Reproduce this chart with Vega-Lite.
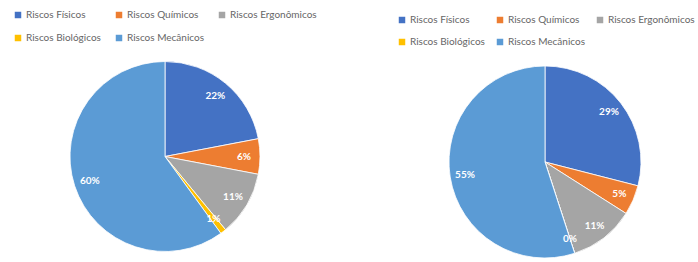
{
  "$schema": "https://vega.github.io/schema/vega-lite/v6.json",
  "background": "white",
  "padding": 0,
  "spacing": 65,
  "bounds": "flush",
  "config": {"view": {"stroke": null}, "font": "Lato"},
  "resolve": {"scale": {"color": "independent", "theta": "independent"}, "legend": {"color": "independent"}},
  "hconcat": [
    {
      "width": 330,
      "height": 185,
      "data": {"values": [
        {"cat": "Riscos Físicos", "k": 1, "v": 0.22},
        {"cat": "Riscos Químicos", "k": 2, "v": 0.06},
        {"cat": "Riscos Ergonômicos", "k": 3, "v": 0.11},
        {"cat": "Riscos Biológicos", "k": 4, "v": 0.01},
        {"cat": "Riscos Mecânicos", "k": 5, "v": 0.60}
      ]},
      "encoding": {
        "theta": {"field": "v", "type": "quantitative", "stack": true},
        "order": {"field": "k", "type": "quantitative"},
        "color": {
          "field": "cat", "type": "nominal",
          "scale": {"domain": ["Riscos Físicos", "Riscos Químicos", "Riscos Ergonômicos", "Riscos Biológicos", "Riscos Mecânicos"],
                    "range": ["#4472C4", "#ED7D31", "#A5A5A5", "#FFC000", "#5B9BD5"]},
          "legend": {"title": null, "orient": "none", "legendX": 3, "legendY": -64, "columns": 3, "direction": "horizontal",
                     "padding": 10, "columnPadding": 13, "rowPadding": 13, "symbolType": "square", "symbolSize": 42,
                     "symbolStrokeWidth": 0, "labelFontSize": 10, "labelColor": "#666666", "labelOffset": 3, "labelFont": "Lato"}
        }
      },
      "layer": [
        {"mark": {"type": "arc", "outerRadius": 95, "stroke": "#ffffff", "strokeWidth": 0.8}},
        {"mark": {"type": "text", "radius": 79, "fill": "white", "fontSize": 10, "fontWeight": "bold", "font": "Lato"},
         "encoding": {"text": {"field": "v", "type": "quantitative", "format": ".0%"}, "color": {"value": "white"}}}
      ]
    },
    {
      "width": 300,
      "height": 196,
      "data": {"values": [
        {"cat": "Riscos Físicos", "k": 1, "v": 0.29},
        {"cat": "Riscos Químicos", "k": 2, "v": 0.05},
        {"cat": "Riscos Ergonômicos", "k": 3, "v": 0.11},
        {"cat": "Riscos Biológicos", "k": 4, "v": 0.0},
        {"cat": "Riscos Mecânicos", "k": 5, "v": 0.55}
      ]},
      "encoding": {
        "theta": {"field": "v", "type": "quantitative", "stack": true},
        "order": {"field": "k", "type": "quantitative"},
        "color": {
          "field": "cat", "type": "nominal",
          "scale": {"domain": ["Riscos Físicos", "Riscos Químicos", "Riscos Ergonômicos", "Riscos Biológicos", "Riscos Mecânicos"],
                    "range": ["#4472C4", "#ED7D31", "#A5A5A5", "#FFC000", "#5B9BD5"]},
          "legend": {"title": null, "orient": "none", "legendX": -8, "legendY": -59, "columns": 3, "direction": "horizontal",
                     "padding": 10, "columnPadding": 10, "rowPadding": 12, "symbolType": "square", "symbolSize": 42,
                     "symbolStrokeWidth": 0, "labelFontSize": 10, "labelColor": "#666666", "labelOffset": 3, "labelFont": "Lato"}
        }
      },
      "layer": [
        {"mark": {"type": "arc", "outerRadius": 96, "stroke": "#ffffff", "strokeWidth": 0.8}},
        {"mark": {"type": "text", "radius": 81, "fill": "white", "fontSize": 10, "fontWeight": "bold", "font": "Lato"},
         "encoding": {"text": {"field": "v", "type": "quantitative", "format": ".0%"}, "color": {"value": "white"}}}
      ]
    }
  ]
}
